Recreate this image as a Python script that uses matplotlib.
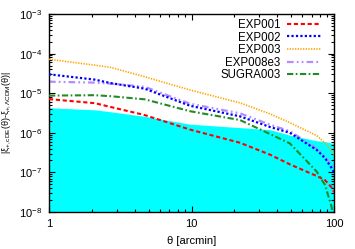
import matplotlib
matplotlib.use('Agg')
import matplotlib.pyplot as plt
from matplotlib.ticker import LogLocator, LogFormatterSciNotation, NullFormatter, FixedLocator, FixedFormatter

plt.rcParams['font.family'] = ['Liberation Sans', 'DejaVu Sans']
plt.rcParams['mathtext.fontset'] = 'custom'
plt.rcParams['mathtext.rm'] = 'Liberation Sans'
plt.rcParams['mathtext.it'] = 'Liberation Sans:italic'

# values (theta in arcmin)
theta = [1, 2.1, 2.7, 4.7, 9.8, 21.9, 35.6, 49, 75.6, 86.5, 96, 100]
exp001 = [7.1e-6, 5.6e-6, 4.5e-6, 2.8e-6, 1.2e-6, 5.6e-7, 2.8e-7, 1.6e-7, 8.1e-8, 6.4e-8, 4.2e-8, 3.2e-8]
exp002 = [3.0e-5, 2.2e-5, 1.8e-5, 1.3e-5, 4.8e-6, 2.6e-6, 1.4e-6, 1.0e-6, 3.7e-7, 2.3e-7, 1.3e-7, 1.0e-7]
exp003 = [7.2e-5, 5.1e-5, 4.5e-5, 2.6e-5, 1.2e-5, 5.7e-6, 3.0e-6, 1.8e-6, 8.5e-7, 5.5e-7, 3.5e-7, 2.8e-7]
exp008e3 = [1.95e-5, 1.85e-5, 1.75e-5, 1.45e-5, 5.4e-6, 3.1e-6, 1.6e-6, 1.1e-6, 4.0e-7, 2.6e-7, 1.5e-7, 1.3e-7]
sugra003 = [8.7e-6, 8.9e-6, 8.4e-6, 7.0e-6, 3.5e-6, 2.1e-6, 9.3e-7, 5.4e-7, 1.05e-7, 4.8e-8, 1.4e-8, 5e-9]
cyan_band = [4.3e-6, 3.8e-6, 3.4e-6, 2.6e-6, 1.65e-6, 1.35e-6, 1.2e-6, 8.7e-7, 6.3e-7, 6.0e-7, 5.5e-7, 5.4e-7]

fig = plt.figure(figsize=(3.55, 2.49), dpi=100)
ax = fig.add_axes([49/355, 1 - 212/249, 285/355, 198/249])

ax.fill_between(theta, 1e-8, cyan_band, color='#00ffff', lw=0, zorder=1)

ax.plot(theta, exp001, color='#ff0000', lw=1.5, dashes=(2.0, 1.3), label='EXP001', zorder=3)
ax.plot(theta, exp002, color='#0000ff', lw=1.6, dashes=(1.0, 1.0), label='EXP002', zorder=3)
ax.plot(theta, exp003, color='#ffa500', lw=1.2, dashes=(0.8, 0.8), label='EXP003', zorder=3)
ax.plot(theta, exp008e3, color='#b48cff', lw=1.6, dashes=(3, 1.4, 0.8, 1.4, 0.8, 1.4), label='EXP008e3', zorder=2)
ax.plot(theta, sugra003, color='#228b22', lw=1.5, dashes=(3, 1.2, 0.8, 1.2), label='SUGRA003', zorder=3)

ax.set_xscale('log')
ax.set_yscale('log')
ax.set_xlim(1, 100)
ax.set_ylim(1e-8, 1e-3)

ax.xaxis.set_major_locator(FixedLocator([1, 10, 100]))
ax.xaxis.set_major_formatter(FixedFormatter(['1', '10', '100']))
ax.xaxis.set_minor_locator(LogLocator(base=10, subs=range(2, 10), numticks=20))
ax.xaxis.set_minor_formatter(NullFormatter())
ax.yaxis.set_major_locator(LogLocator(base=10, numticks=10))
ax.yaxis.set_major_formatter(LogFormatterSciNotation())
ax.yaxis.set_minor_locator(LogLocator(base=10, subs=range(2, 10), numticks=20))
ax.yaxis.set_minor_formatter(NullFormatter())

ax.tick_params(which='both', direction='in', top=True, right=True, width=0.8)
ax.tick_params(which='major', length=4, labelsize=8, pad=5)
ax.tick_params(which='minor', length=2)
for s in ax.spines.values():
    s.set_linewidth(1.0)

ax.set_xlabel('θ [arcmin]', fontsize=8, labelpad=5)
ax.set_ylabel(r'|ξ$_{+,\mathrm{cDE}}$(θ)-ξ$_{+,\Lambda\mathrm{CDM}}$(θ)|', fontsize=6.5)
ax.yaxis.set_label_coords(-0.125, 0.5)

ax.legend(loc='upper right', bbox_to_anchor=(0.953, 0.975), frameon=False,
          markerfirst=False, fontsize=8.3, handlelength=2.9, handletextpad=0.6,
          labelspacing=0.05, borderpad=0, borderaxespad=0)

fig.savefig('out.png', dpi=100)
